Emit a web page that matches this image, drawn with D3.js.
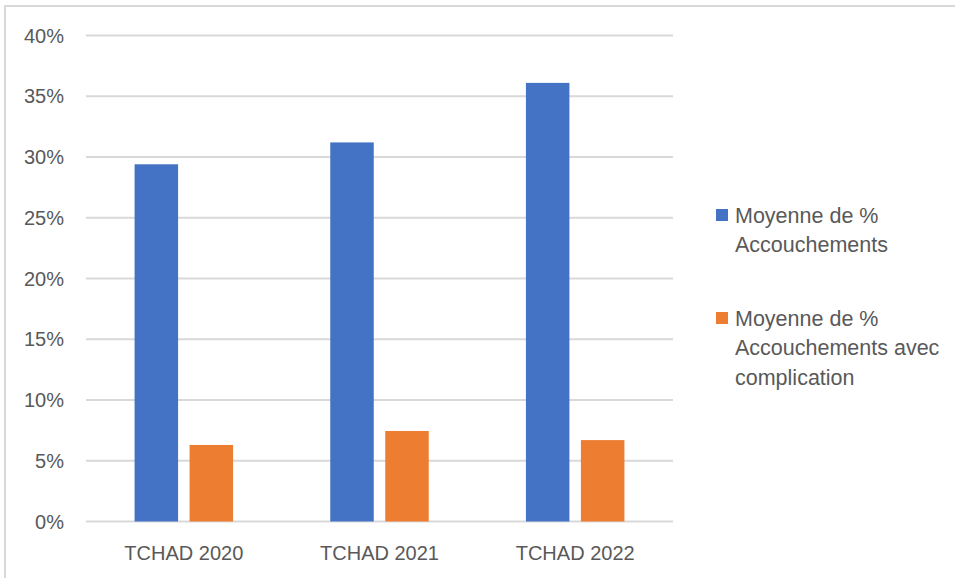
<!DOCTYPE html>
<html>
<head>
<meta charset="utf-8">
<script src="https://cdn.jsdelivr.net/npm/d3@7"></script>
<style>
  html, body { margin: 0; padding: 0; background: #fff; }
  svg { display: block; font-family: "Liberation Sans", Arial, sans-serif; }
</style>
</head>
<body>
<svg id="chart" width="955" height="578"></svg>
<script>
const categories = ["TCHAD 2020", "TCHAD 2021", "TCHAD 2022"];
const seriesNames = ["Moyenne de % Accouchements", "Moyenne de % Accouchements avec complication"];
const legendLines = [["Moyenne de %", "Accouchements"], ["Moyenne de %", "Accouchements avec", "complication"]];
const accouchements = [0.294, 0.312, 0.361];
const complications = [0.063, 0.0745, 0.067];
const yTicks = [0, 0.05, 0.10, 0.15, 0.20, 0.25, 0.30, 0.35, 0.40];
const colors = ["#4472C4", "#ED7D31"];

const svg = d3.select("#chart");

// outer frame (top and left visible)
svg.append("line").attr("x1", 5).attr("x2", 955).attr("y1", 6).attr("y2", 6)
  .attr("stroke", "#d9d9d9").attr("stroke-width", 2);
svg.append("line").attr("x1", 5).attr("x2", 5).attr("y1", 5).attr("y2", 578)
  .attr("stroke", "#d9d9d9").attr("stroke-width", 2);

const plot = { left: 86, right: 673, top: 35.5, bottom: 521.5 };

const x = d3.scaleBand().domain(categories).range([plot.left, plot.right]).paddingInner(0).paddingOuter(0);
const y = d3.scaleLinear().domain([0, 0.40]).range([plot.bottom, plot.top]);

const series = [accouchements, complications];
const barW = 43.5;
const offsets = [-27.5, 27.5];

// gridlines
svg.append("g").selectAll("line").data(yTicks).join("line")
  .attr("x1", plot.left).attr("x2", plot.right)
  .attr("y1", d => y(d)).attr("y2", d => y(d))
  .attr("stroke", "#d9d9d9").attr("stroke-width", 2);

// y labels
const fmt = d3.format(".0%");
svg.append("g").selectAll("text").data(yTicks).join("text")
  .attr("x", 64).attr("y", d => y(d) + 7.2)
  .attr("text-anchor", "end")
  .attr("font-size", 20).attr("fill", "#595959")
  .text(d => fmt(d));

// bars
series.forEach((vals, si) => {
  svg.append("g").selectAll("rect").data(vals).join("rect")
    .attr("x", (d, i) => x(categories[i]) + x.bandwidth() / 2 + offsets[si] - barW / 2)
    .attr("width", barW)
    .attr("y", d => y(d))
    .attr("height", d => y(0) - y(d))
    .attr("fill", colors[si]);
});

// x labels
svg.append("g").selectAll("text").data(categories).join("text")
  .attr("x", d => x(d) + x.bandwidth() / 2)
  .attr("y", 559.5)
  .attr("text-anchor", "middle")
  .attr("font-size", 20).attr("fill", "#595959")
  .text(d => d);

// legend
const legendTop = [215, 318];
legendLines.forEach((lines, si) => {
  const g = svg.append("g");
  g.append("rect").attr("x", 716).attr("y", legendTop[si] - 6).attr("width", 12).attr("height", 12)
    .attr("fill", colors[si]);
  g.selectAll("text").data(lines).join("text")
    .attr("x", 735).attr("y", (d, i) => legendTop[si] + 7.5 + i * 29.5)
    .attr("font-size", 21.5).attr("fill", "#595959")
    .text(d => d);
});
</script>
</body>
</html>
